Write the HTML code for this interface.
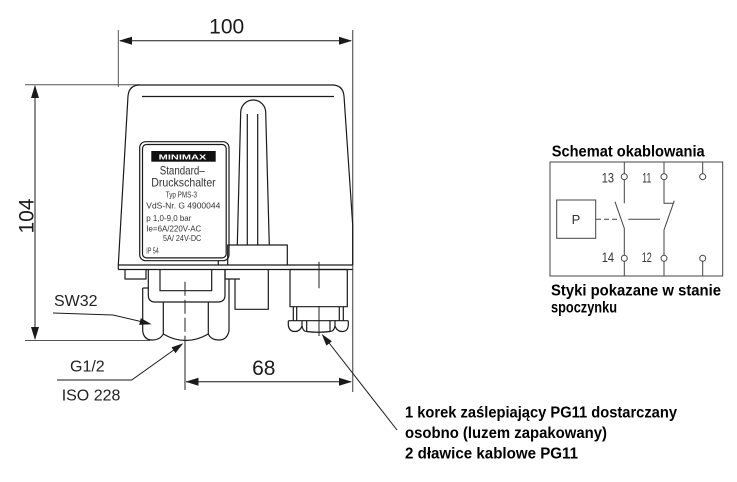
<!DOCTYPE html>
<html><head><meta charset="utf-8"><style>
html,body{margin:0;padding:0;background:#fff;}
svg{display:block;}
</style></head><body>
<svg width="737" height="482" viewBox="0 0 737 482" xmlns="http://www.w3.org/2000/svg">
<rect width="737" height="482" fill="#fff"/>
<g fill="none" stroke="#555" stroke-width="1">
  <line x1="118.3" y1="30" x2="118.3" y2="87"/>
  <line x1="352.7" y1="30" x2="352.7" y2="392" stroke-width="1.3" stroke="#666"/>
  <line x1="25" y1="84.7" x2="140" y2="84.7"/>
  <line x1="25" y1="340.5" x2="150" y2="340.5"/>
</g>
<g fill="none" stroke="#1a1a1a" stroke-width="1">
  <line x1="120" y1="40.7" x2="351" y2="40.7"/>
  <line x1="35" y1="86" x2="35" y2="339"/>
  <line x1="186" y1="381.7" x2="351" y2="381.7"/>
  <polyline points="53,313 113,315 145,322.5"/>
  <polyline points="57,380 131.7,380 178,347"/>
  <line x1="397" y1="430" x2="326" y2="339"/>
</g>
<g fill="#1a1a1a" stroke="none">
  <polygon points="119,40.7 132,36.7 132,44.7"/>
  <polygon points="352,40.7 339,36.7 339,44.7"/>
  <polygon points="35,85 31,98 39,98"/>
  <polygon points="35,340 31,327 39,327"/>
  <polygon points="185.5,381.7 198.5,377.7 198.5,385.7"/>
  <polygon points="352,381.7 339,377.7 339,385.7"/>
  <polygon points="151.7,324.3 139.2,324.9 140.8,318.1"/>
  <polygon points="183.3,343.3 175.5,353.1 171.5,347.4"/>
  <polygon points="321.7,334 331.9,341.3 326.4,345.6"/>
</g>
<g font-family="Liberation Sans, sans-serif" fill="#1a1a1a">
  <text x="226.7" y="33.3" font-size="21" text-anchor="middle">100</text>
  <text transform="translate(33.3,216) rotate(-90)" font-size="21" text-anchor="middle">104</text>
  <text x="263.8" y="375" font-size="21" text-anchor="middle">68</text>
  <text x="54" y="306" font-size="16" fill="#222">SW32</text>
  <text x="70" y="371.5" font-size="16" fill="#222">G1/2</text>
  <text x="61.7" y="400.7" font-size="16" fill="#222">ISO 228</text>
</g>

<g fill="none" stroke="#1a1a1a" stroke-width="1.2" stroke-linejoin="round">
  <path d="M118.3,265 L128,96 Q129,85 140,85 L332,85 Q343,85 344,96 L352.7,225 L352.7,265"/>
  <line x1="142" y1="96.5" x2="334" y2="96.5"/>
  <line x1="118.3" y1="265" x2="352.7" y2="265"/>
  <line x1="118.3" y1="269.5" x2="352.7" y2="269.5"/>
  <line x1="118.3" y1="265" x2="118.3" y2="269.5"/>
  <path d="M237.3,245 L240.7,112.5 A12.5,12.5 0 0 1 265.7,112.5 L269.3,245"/>
  <line x1="247.3" y1="114" x2="247.3" y2="245"/>
  <line x1="257.7" y1="114" x2="257.7" y2="245"/>
  <path d="M227.7,265 L227.7,245 L287.3,245 L287.3,265"/>
  <line x1="218.3" y1="260.7" x2="218.3" y2="265"/>
  <rect x="139.7" y="141.7" width="89.3" height="119" rx="6"/>
  <rect x="142.5" y="144.5" width="83.7" height="113.4" rx="4"/>
  <path d="M125,269.5 L125,279 L146,279 L146,269.5"/>
  <path d="M225,269.5 L225,279 L240,279"/>
  <path d="M235,279 L235,309.3 L268.3,309.3 L268.3,269.5"/>
  <path d="M148.3,269.5 L148.3,295 Q148.3,302 155,302 L218,302 Q225,302 225,295 L225,269.5"/>
  <path d="M160,269.5 L160,290.7 L211.7,290.7 L211.7,269.5"/>
  <line x1="142.7" y1="288" x2="142.7" y2="331"/>
  <line x1="229" y1="279" x2="229" y2="331"/>
  <line x1="142.7" y1="288" x2="148.3" y2="288"/>
  <line x1="163.3" y1="302" x2="163.3" y2="334"/>
  <line x1="208.3" y1="302" x2="208.3" y2="334"/>
  <path d="M142.7,331 Q144,340 152,340 Q160,340 163.3,334"/>
  <path d="M163.3,334 Q185.5,347 208.3,334"/>
  <path d="M208.3,334 Q211,340 219,340 Q227,340 229,331"/>
  <rect x="290" y="269.5" width="57.3" height="37.2"/>
  <path d="M293.3,306.7 L293.3,320.7 M296.7,306.7 L296.7,320.7 M339.3,306.7 L339.3,320.7 M343.3,306.7 L343.3,320.7"/>
  <line x1="288.3" y1="320.7" x2="348.3" y2="320.7"/>
  <path d="M288.3,320.7 L288.3,325 Q289,331.5 295,331.5 Q300,331.5 302,326 L302,320.7"/>
  <path d="M302,326 Q303,331.5 306.5,331.5 Q318,333 330,331.5 Q334,331.5 335,326"/>
  <path d="M306.7,320.7 L306.7,331.5 M330,320.7 L330,331.5"/>
  <path d="M335,320.7 L335,326 Q337,331.5 342,331.5 Q348,331.5 348.3,325 L348.3,320.7"/>
</g>
<g fill="none" stroke="#222" stroke-width="1">
  <line x1="185" y1="281.7" x2="185" y2="342" stroke-dasharray="14,4"/>
  <line x1="185" y1="342" x2="185" y2="390"/>
  <line x1="319" y1="261.7" x2="319" y2="288.3"/>
  <line x1="319" y1="306" x2="319" y2="336"/>
</g>
<rect x="151.3" y="151" width="64.4" height="10.7" fill="#111"/>
<g font-family="Liberation Sans, sans-serif" fill="#333">
  <text x="158.7" y="159.4" font-size="7.5" font-weight="bold" fill="#fff" textLength="47.6" lengthAdjust="spacingAndGlyphs">MINIMAX</text>
  <text x="159.7" y="174.3" font-size="12" textLength="45" lengthAdjust="spacingAndGlyphs">Standard–</text>
  <text x="151.3" y="186.7" font-size="12" textLength="64.4" lengthAdjust="spacingAndGlyphs">Druckschalter</text>
  <text x="165.7" y="197.7" font-size="8.5" textLength="31.3" lengthAdjust="spacingAndGlyphs">Typ PMS-3</text>
  <text x="146.3" y="208.7" font-size="8.5" textLength="74" lengthAdjust="spacingAndGlyphs">VdS-Nr.   G 4900044</text>
  <text x="146.3" y="221" font-size="8.5" textLength="45" lengthAdjust="spacingAndGlyphs">p  1,0-9,0   bar</text>
  <text x="146.3" y="231.7" font-size="8.5" textLength="55" lengthAdjust="spacingAndGlyphs">Ie=6A/220V-AC</text>
  <text x="163" y="241" font-size="8.5" textLength="38.3" lengthAdjust="spacingAndGlyphs">5A/ 24V-DC</text>
  <text x="146.3" y="253.3" font-size="8.5" textLength="12.4" lengthAdjust="spacingAndGlyphs">IP 54</text>
</g>

<g fill="none" stroke="#444" stroke-width="1">
  <rect x="550" y="162" width="172.7" height="114"/>
  <rect x="556.7" y="200" width="39" height="38.3"/>
  <path d="M624.3,162 L624.3,173.7 M624.3,179.7 L624.3,203.3 M615,201.7 L624.3,228.3 L624.3,255.3 M624.3,261.3 L624.3,276"/>
  <path d="M664,162 L664,173.7 M664,179.7 L664,203.3 L673.3,203.3 M674.3,200.7 L664,230 L664,255.3 M664,261.3 L664,276"/>
  <path d="M702.7,162 L702.7,173.7 M702.7,261.3 L702.7,276"/>
  <line x1="596" y1="219.3" x2="619.3" y2="219.3" stroke-dasharray="5,3"/>
  <line x1="628.3" y1="219.3" x2="660" y2="219.3"/>
</g>
<g fill="#fff" stroke="#444" stroke-width="1">
  <circle cx="624.3" cy="176.7" r="3"/>
  <circle cx="664" cy="176.7" r="3"/>
  <circle cx="702.7" cy="176.7" r="3"/>
  <circle cx="624.3" cy="258.3" r="3"/>
  <circle cx="664" cy="258.3" r="3"/>
  <circle cx="702.7" cy="258.3" r="3"/>
</g>
<g font-family="Liberation Sans, sans-serif" fill="#333" font-size="14">
  <text x="576" y="224" text-anchor="middle" font-size="13">P</text>
  <text x="601.7" y="182.5" textLength="12.3" lengthAdjust="spacingAndGlyphs">13</text>
  <text x="642.3" y="182.5" textLength="9" lengthAdjust="spacingAndGlyphs">11</text>
  <text x="601.7" y="262" textLength="12.3" lengthAdjust="spacingAndGlyphs">14</text>
  <text x="641.7" y="262" textLength="10" lengthAdjust="spacingAndGlyphs">12</text>
</g>
<g font-family="Liberation Sans, sans-serif" font-weight="bold" fill="#000" font-size="16">
  <text x="551.7" y="156.7" textLength="153" lengthAdjust="spacingAndGlyphs">Schemat okablowania</text>
  <text x="551" y="295.7" textLength="170" lengthAdjust="spacingAndGlyphs">Styki pokazane w stanie</text>
  <text x="551" y="312.7" textLength="66" lengthAdjust="spacingAndGlyphs">spoczynku</text>
  <text x="405" y="417.5" textLength="272" lengthAdjust="spacingAndGlyphs">1 korek zaślepiający PG11 dostarczany</text>
  <text x="405" y="438" textLength="202" lengthAdjust="spacingAndGlyphs">osobno (luzem zapakowany)</text>
  <text x="405" y="458.5" textLength="173" lengthAdjust="spacingAndGlyphs">2 dławice kablowe PG11</text>
</g>
</svg>
</body></html>
